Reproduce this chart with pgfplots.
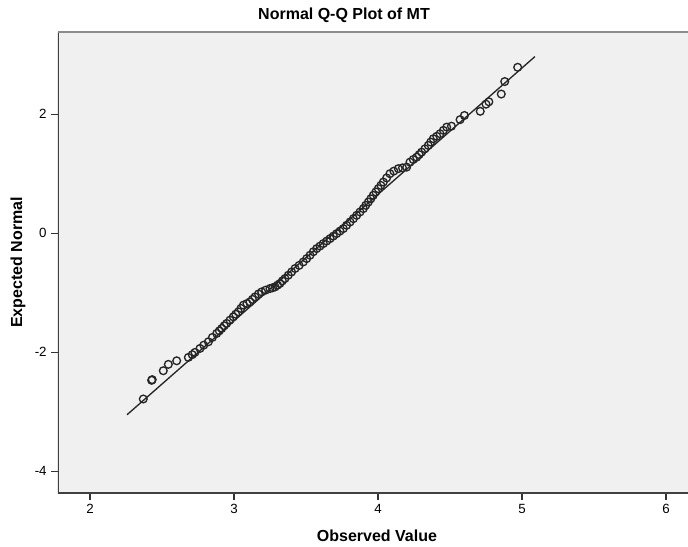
\documentclass[border=0pt]{standalone}
\usepackage{fontspec}
\setmainfont{Liberation Sans}
\usepackage{pgfplots}
\pgfplotsset{compat=1.18}
\definecolor{bg}{HTML}{F0F0F0}
\begin{document}
\begin{tikzpicture}
\path[use as bounding box] (-43.5pt,-39.75pt) rectangle (472.5pt,369.75pt);
\begin{axis}[
  at={(0pt,0pt)}, anchor=south west,
  scale only axis, width=472.5pt, height=345.75pt,
  xmin=1.7778, xmax=6.1528, ymin=-4.365, ymax=3.383,
  axis background/.style={fill=bg},
  axis line style={draw=none},
  xtick={2,3,4,5,6}, ytick={-4,-2,0,2},
  tick align=outside, tick pos=left,
  major tick length=5pt,
  tick style={black!80, line width=0.8pt},
  ticklabel style={font=\fontsize{10}{11}\selectfont},
  /pgf/number format/assume math mode=true,
  title={Normal Q-Q Plot of MT},
  title style={at={(axis description cs:0.454,1.0184)}, anchor=center, font=\fontsize{12}{14}\selectfont\bfseries},
  xlabel={Observed Value},
  xlabel style={at={(axis description cs:0.5063,-0.0925)}, anchor=center, font=\fontsize{12}{14}\selectfont\bfseries},
  ylabel={Expected Normal},
  ylabel style={at={(axis description cs:-0.0635,0.5)}, anchor=center, font=\fontsize{12}{14}\selectfont\bfseries},
]
\addplot[black!85, line width=1pt] coordinates {(2.257,-3.05) (5.09,2.97)};
\addplot[only marks, mark=o, mark size=2.9pt, mark options={draw=black!85, line width=1pt}] table {
x y
2.370 -2.785
2.428 -2.471
2.432 -2.460
2.509 -2.310
2.544 -2.203
2.602 -2.143
2.683 -2.086
2.710 -2.040
2.729 -2.002
2.764 -1.935
2.790 -1.880
2.822 -1.824
2.850 -1.750
2.880 -1.683
2.898 -1.640
2.915 -1.599
2.932 -1.555
2.949 -1.515
2.972 -1.460
2.995 -1.404
3.012 -1.360
3.030 -1.320
3.048 -1.262
3.065 -1.208
3.090 -1.180
3.111 -1.153
3.128 -1.110
3.146 -1.069
3.170 -1.020
3.192 -0.985
3.220 -0.955
3.250 -0.928
3.268 -0.915
3.285 -0.901
3.302 -0.872
3.319 -0.844
3.336 -0.800
3.354 -0.760
3.377 -0.705
3.400 -0.650
3.424 -0.592
3.452 -0.540
3.481 -0.482
3.505 -0.425
3.528 -0.369
3.551 -0.310
3.574 -0.257
3.597 -0.215
3.620 -0.173
3.644 -0.130
3.667 -0.089
3.690 -0.047
3.713 -0.005
3.736 0.037
3.759 0.079
3.782 0.135
3.806 0.190
3.829 0.246
3.852 0.302
3.875 0.358
3.898 0.414
3.915 0.470
3.933 0.525
3.950 0.580
3.967 0.638
3.985 0.695
4.002 0.750
4.020 0.805
4.037 0.861
4.060 0.930
4.083 1.002
4.110 1.045
4.141 1.086
4.170 1.100
4.199 1.112
4.222 1.196
4.245 1.240
4.269 1.280
4.286 1.322
4.303 1.364
4.326 1.420
4.349 1.477
4.366 1.533
4.384 1.589
4.408 1.630
4.431 1.673
4.454 1.730
4.477 1.784
4.510 1.800
4.570 1.910
4.600 1.980
4.710 2.050
4.750 2.170
4.770 2.210
4.856 2.340
4.880 2.550
4.970 2.790
};
\draw[black!75, line width=1pt] (rel axis cs:0,1) -- (rel axis cs:0,0) -- (rel axis cs:1,0);
\draw[black!45, line width=1.2pt] (rel axis cs:0,1) -- (rel axis cs:1,1);
\end{axis}
\end{tikzpicture}
\end{document}
